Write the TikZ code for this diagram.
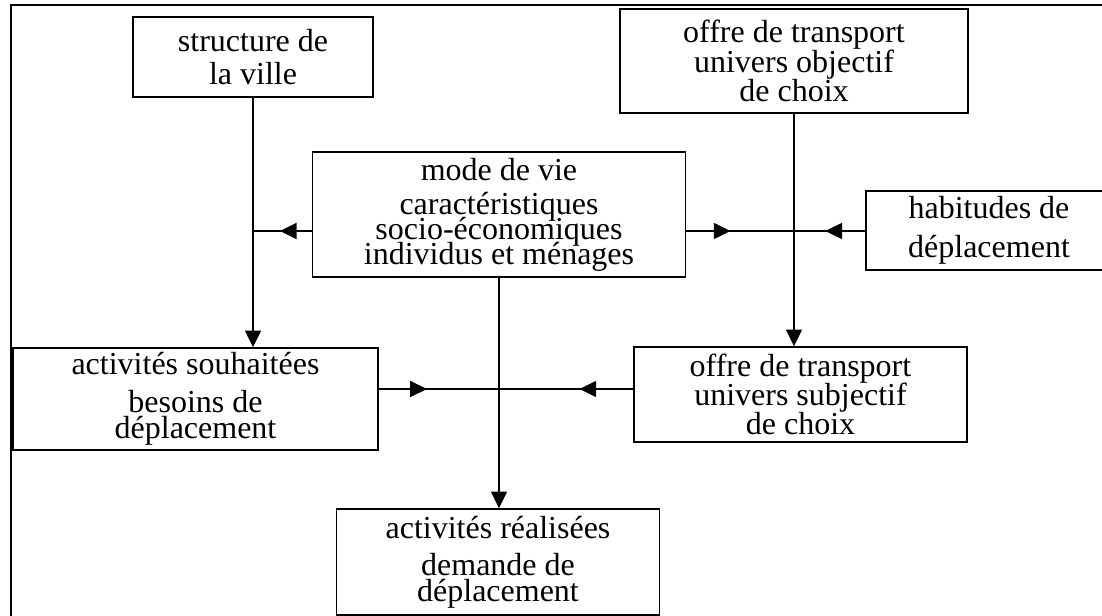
\documentclass[tikz,border=0pt]{standalone}
\usepackage{fontspec}
\setmainfont{Liberation Serif}
\usetikzlibrary{arrows.meta,decorations.markings}

\begin{document}
\begin{tikzpicture}[
        x=0.75pt, y=-0.75pt,
        >={Triangle[length=12.5pt, width=12pt]},
        box/.style={rectangle, draw, line width=1.2pt, align=center, inner sep=0pt},
        ls/.style={font={\fontsize{24pt}{#1}\selectfont\lineskiplimit=-\maxdimen}},
        link/.style={line width=1.2pt},
        midarrow/.style={link, postaction={decorate},
                         decoration={markings, mark=at position #1 with {\arrow{>}}}},
    ]
        \clip (0,0) rectangle (1102,616);
        \draw[line width=1.8pt] (11,5) rectangle (1130,650);

        % top row
        \node[box, ls=24.75pt, minimum width=180pt, minimum height=60pt] (ville) at (253,57)
            {structure de\\la ville};
        \node[box, ls=22pt, minimum width=261pt, minimum height=78pt] (objectif) at (794,61)
            {offre de transport\\univers objectif\\de choix};

        % middle row
        \node[box, ls=18.75pt, minimum width=279.75pt, minimum height=93.75pt] (modevie) at (499,214.5)
            {mode de vie\\[6.75pt]caractéristiques\\socio-économiques\\individus et ménages};
        \node[box, ls=29.25pt, minimum width=184.5pt, minimum height=59.25pt] (habitudes) at (989,230.5)
            {habitudes de\\déplacement};

        % lower rows
        \node[box, ls=19.5pt, minimum width=273.75pt, minimum height=76.5pt] (souhaitees) at (195.5,399)
            {activités souhaitées\\[9pt]besoins de\\déplacement};
        \node[box, ls=22pt, minimum width=249.75pt, minimum height=71.25pt] (subjectif) at (800.5,394.5)
            {offre de transport\\univers subjectif\\de choix};
        \node[box, ls=19.5pt, minimum width=242.25pt, minimum height=79.5pt] (realisees) at (498,562)
            {activités réalisées\\[8.25pt]demande de\\déplacement};

        \coordinate (jA) at (253,231);
        \coordinate (jB) at (794,231);
        \coordinate (jC) at (499,389);

        \draw[link, ->] (ville.south) -- (ville.south |- souhaitees.north);
        \draw[link, ->] (objectif.south) -- (objectif.south |- subjectif.north);
        \draw[link, ->] (modevie.south) -- (modevie.south |- realisees.north);

        \draw[midarrow=0.54] (modevie.west |- jA) -- (jA);
        \draw[midarrow=0.41] (modevie.east |- jB) -- (jB);
        \draw[midarrow=0.56] (habitudes.west |- jB) -- (jB);
        \draw[midarrow=0.40] (souhaitees.east |- jC) -- (jC);
        \draw[midarrow=0.40] (subjectif.west |- jC) -- (jC);
    \end{tikzpicture}
\end{document}
